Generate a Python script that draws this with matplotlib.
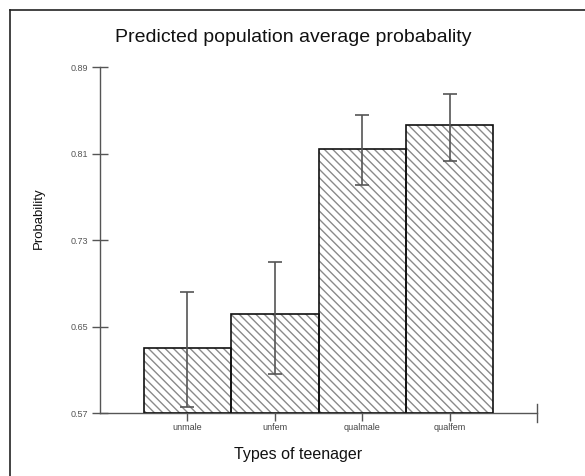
import matplotlib.pyplot as plt
from matplotlib.lines import Line2D
import numpy as np

categories = ["unmale", "unfem", "qualmale", "qualfem"]
probability = [0.630, 0.662, 0.814, 0.836]
ci_lower = [0.576, 0.606, 0.781, 0.803]
ci_upper = [0.682, 0.710, 0.846, 0.865]
y_ticks = [0.57, 0.65, 0.73, 0.81, 0.89]

plt.rcParams['font.family'] = ['Liberation Sans', 'DejaVu Sans']
plt.rcParams['hatch.linewidth'] = 1.0

W, H = 585, 476
fig = plt.figure(figsize=(W / 100, H / 100), dpi=100)
ax = fig.add_axes([100 / W, 1 - 413 / H, 437 / W, 346 / H])

x = np.arange(len(categories))
heights = np.array(probability) - y_ticks[0]

# hatched fill in grey, then black outlines on top
ax.bar(x, heights, width=1.0, bottom=y_ticks[0], color='white',
       edgecolor='#8a8a8a', hatch='\\\\\\\\', linewidth=0, zorder=2)
ax.bar(x, heights, width=1.0, bottom=y_ticks[0], color='none',
       edgecolor='#111111', linewidth=1.2, zorder=3)

yerr = [np.array(probability) - np.array(ci_lower),
        np.array(ci_upper) - np.array(probability)]
ax.errorbar(x, probability, yerr=yerr, fmt='none', ecolor='#555555',
            elinewidth=1.2, capsize=5, capthick=1.2, zorder=4)

ax.set_xlim(-1, 4)
ax.set_ylim(y_ticks[0], y_ticks[-1])
for s in ['top', 'right']:
    ax.spines[s].set_visible(False)
for s in ['left', 'bottom']:
    ax.spines[s].set_color('#555555')
    ax.spines[s].set_linewidth(1.0)

ax.set_yticks(y_ticks)
ax.set_yticklabels([f"{v:.2f}" for v in y_ticks])
ax.tick_params(axis='y', direction='inout', length=11, width=1.0,
               color='#555555', labelsize=6.5, labelcolor='#555555', pad=3)
ax.set_xticks(x)
ax.set_xticklabels(categories)
ax.tick_params(axis='x', direction='out', length=6, width=1.0,
               color='#555555', labelsize=6.5, labelcolor='#444444', pad=1)

# end tick on the right of the category axis
ax.plot([4, 4], [-0.025, 0.025], transform=ax.get_xaxis_transform(),
        color='#555555', lw=1.0, clip_on=False)

fig.text(39 / W, 1 - 218 / H, "Probability", rotation=90,
         ha='center', va='center', fontsize=9.5, color='#111111')
fig.text(298 / W, 1 - 455 / H, "Types of teenager",
         ha='center', va='center', fontsize=11.5, color='#111111')
fig.text(293 / W, 1 - 37 / H, "Predicted population average probabality",
         ha='center', va='center', fontsize=14, color='#111111')

# outer frame lines along top and left edges
fig.add_artist(Line2D([10 / W, 1], [1 - 10 / H, 1 - 10 / H],
                      transform=fig.transFigure, color='#222222', lw=1.2))
fig.add_artist(Line2D([10 / W, 10 / W], [0, 1 - 10 / H],
                      transform=fig.transFigure, color='#222222', lw=1.2))

fig.savefig("out.png", dpi=100)
